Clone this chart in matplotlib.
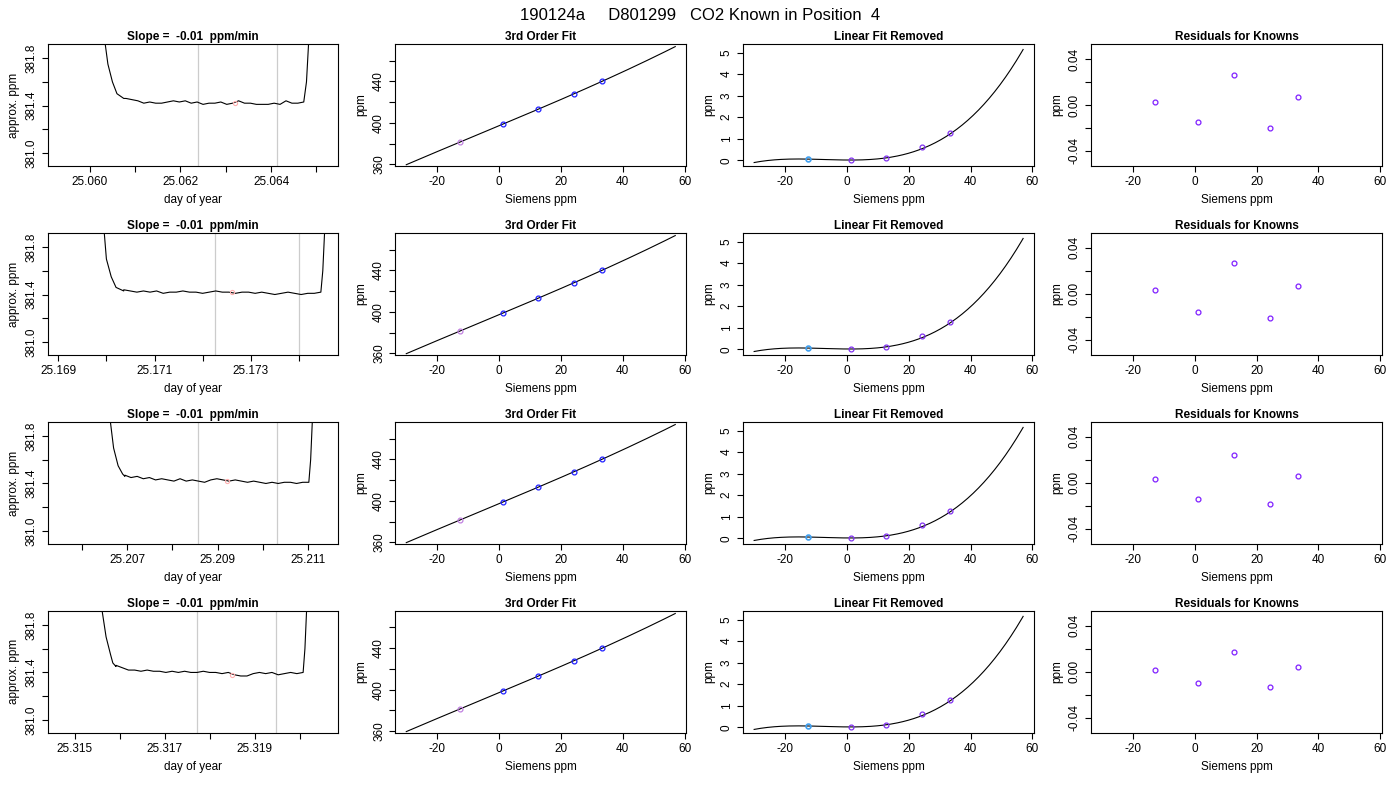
import numpy as np
import matplotlib
matplotlib.use("Agg")
import matplotlib.pyplot as plt
from matplotlib.ticker import MultipleLocator, FuncFormatter

plt.rcParams['font.family'] = ['Liberation Sans', 'DejaVu Sans']

title = "190124a     D801299   CO2 Known in Position  4"

# time-series traces: descent, flat wiggle, rise (day of year, ppm)
ts_desc_t = [[25.06033, 25.0604, 25.0605, 25.0606, 25.06075],
             [25.16995, 25.1700, 25.1701, 25.1702, 25.17036],
             [25.20662, 25.2067, 25.2068, 25.2069, 25.20695],
             [25.31560, 25.3157, 25.3158, 25.31585, 25.31592]]
ts_desc_v = [[381.95, 381.75, 381.60, 381.50, 381.46],
             [381.95, 381.70, 381.55, 381.46, 381.43],
             [381.95, 381.70, 381.55, 381.48, 381.46],
             [381.95, 381.70, 381.55, 381.48, 381.45]]
ts_flat_range = [(25.0608, 25.06472), (25.17036, 25.17445),
                 (25.20695, 25.21102), (25.31592, 25.32008)]
ts_flat_v = [
    [381.46, 381.45, 381.44, 381.42, 381.43, 381.42, 381.42, 381.43, 381.44, 381.43,
     381.44, 381.42, 381.43, 381.41, 381.42, 381.42, 381.43, 381.41, 381.42, 381.44,
     381.42, 381.42, 381.41, 381.41, 381.41, 381.42, 381.41, 381.44, 381.42, 381.42, 381.43],
    [381.44, 381.43, 381.42, 381.43, 381.42, 381.43, 381.41, 381.42, 381.42, 381.43,
     381.42, 381.42, 381.41, 381.42, 381.43, 381.42, 381.42, 381.41, 381.42, 381.42,
     381.41, 381.42, 381.41, 381.40, 381.41, 381.42, 381.41, 381.40, 381.41, 381.41, 381.42],
    [381.47, 381.45, 381.46, 381.44, 381.45, 381.43, 381.44, 381.43, 381.42, 381.44,
     381.42, 381.43, 381.42, 381.41, 381.43, 381.44, 381.43, 381.42, 381.43, 381.42,
     381.41, 381.42, 381.41, 381.40, 381.41, 381.40, 381.41, 381.41, 381.40, 381.41, 381.41],
    [381.46, 381.44, 381.42, 381.42, 381.41, 381.42, 381.41, 381.41, 381.40, 381.41,
     381.40, 381.41, 381.40, 381.40, 381.41, 381.40, 381.40, 381.39, 381.40, 381.38,
     381.37, 381.37, 381.39, 381.40, 381.39, 381.40, 381.38, 381.39, 381.40, 381.39, 381.40],
]
ts_rise_t = [[25.06478, 25.06483], [25.17449, 25.17453], [25.21106, 25.21110], [25.32012, 25.32016]]
ts_rise_v = [[381.60, 381.95], [381.60, 381.95], [381.60, 381.95], [381.60, 381.95]]
ts_xlim = [(25.05907, 25.06548), (25.16878, 25.17481), (25.20524, 25.21167), (25.3144, 25.32086)]
ts_gray = [(25.06238, 25.06413), (25.17226, 25.17400), (25.20857, 25.21032), (25.31773, 25.31948)]
ts_mark = [(25.0632, 381.42), (25.1726, 381.42), (25.2092, 381.42), (25.3185, 381.38)]
ts_ticks = [[25.060, 25.061, 25.062, 25.063, 25.064, 25.065],
            [25.169, 25.170, 25.171, 25.172, 25.173, 25.174],
            [25.206, 25.207, 25.208, 25.209, 25.210, 25.211],
            [25.315, 25.316, 25.317, 25.318, 25.319, 25.320]]
ts_ticklabels = [["25.060", "", "25.062", "", "25.064", ""],
                 ["25.169", "", "25.171", "", "25.173", ""],
                 ["", "25.207", "", "25.209", "", "25.211"],
                 ["25.315", "", "25.317", "", "25.319", ""]]

# known standards
siemens = [-12.7, 1.2, 12.7, 24.3, 33.3]
known_ppm = [381.4, 399.0, 413.0, 428.0, 440.0]
lin_removed = [0.05, 0.0, 0.1, 0.6, 1.25]
curve_x = [-30, -20, -10, 0, 10, 20, 30, 40, 50, 57]
curve_y = [-0.1, 0.05, 0.05, 0.0, 0.05, 0.35, 0.95, 2.0, 3.5, 5.2]
resid = [[0.003, -0.015, 0.026, -0.020, 0.007],
         [0.003, -0.016, 0.027, -0.021, 0.007],
         [0.003, -0.014, 0.024, -0.018, 0.006],
         [0.002, -0.010, 0.017, -0.013, 0.004]]
lin_intercept = 381.35
lin_slope = 1.248

fig, axes = plt.subplots(4, 4, figsize=(14, 8), dpi=100)
fig.subplots_adjust(left=0.034, right=0.987, top=0.945, bottom=0.084, wspace=0.197, hspace=0.55)
fig.suptitle(title, fontsize=12, y=0.99)

tfs, lfs, tkfs = 8.5, 8.5, 8.5
coef = np.polyfit(curve_x, curve_y, 3)
xx = np.linspace(-30, 57, 200)
cub = np.polyval(coef, xx)
xt = [-20, 0, 20, 40, 60]
xtl = ["-20", "0", "20", "40", "60"]

def style(ax):
    ax.tick_params(direction='out', length=4, labelsize=tkfs)
    for lab in ax.get_yticklabels():
        lab.set_rotation(90)
        lab.set_va('center')

for r in range(4):
    ax = axes[r, 0]
    t = list(ts_desc_t[r]) + list(np.linspace(*ts_flat_range[r], len(ts_flat_v[r]))) + list(ts_rise_t[r])
    v = list(ts_desc_v[r]) + ts_flat_v[r] + list(ts_rise_v[r])
    for g in ts_gray[r]:
        ax.axvline(g, color='#cccccc', lw=0.9)
    ax.plot(t, v, color='black', lw=0.8)
    ax.plot(*ts_mark[r], 'o', ms=3, mfc='none', mec='#ffb0b0', mew=0.8)
    ax.set_xlim(*ts_xlim[r]); ax.set_ylim(380.89, 381.92)
    ax.set_xticks(ts_ticks[r]); ax.set_xticklabels(ts_ticklabels[r])
    ax.set_yticks([381.0, 381.2, 381.4, 381.6, 381.8])
    ax.set_yticklabels(["381.0", "", "381.4", "", "381.8"])
    ax.set_title("Slope =  -0.01  ppm/min", fontsize=tfs, fontweight='bold', pad=3)
    ax.set_xlabel("day of year", fontsize=lfs); ax.set_ylabel("approx. ppm", fontsize=lfs)
    style(ax)

    ax = axes[r, 1]
    ax.plot(xx, lin_intercept + lin_slope * (xx - siemens[0]) + cub, color='black', lw=0.8)
    ax.plot(siemens[:1], known_ppm[:1], 'o', ms=3.5, mfc='none', mec='#c080e0', mew=0.9)
    ax.plot(siemens[1:], known_ppm[1:], 'o', ms=3.5, mfc='none', mec='#2020ff', mew=0.9)
    ax.set_xlim(-33.5, 60.5); ax.set_ylim(358.5, 476)
    ax.set_xticks(xt); ax.set_xticklabels(xtl)
    ax.set_yticks([360, 380, 400, 420, 440, 460])
    ax.set_yticklabels(["360", "", "400", "", "440", ""])
    ax.set_title("3rd Order Fit", fontsize=tfs, fontweight='bold', pad=3)
    ax.set_xlabel("Siemens ppm", fontsize=lfs); ax.set_ylabel("ppm", fontsize=lfs)
    style(ax)

    ax = axes[r, 2]
    ax.plot(xx, cub, color='black', lw=0.8)
    ax.plot(siemens[:1], lin_removed[:1], 'o', ms=3.5, mfc='none', mec='#40a0f0', mew=1.2)
    ax.plot(siemens[1:], lin_removed[1:], 'o', ms=3.5, mfc='none', mec='#8030f0', mew=0.9)
    ax.set_xlim(-33.5, 60.5); ax.set_ylim(-0.26, 5.4)
    ax.set_xticks(xt); ax.set_xticklabels(xtl)
    ax.set_yticks([0, 1, 2, 3, 4, 5])
    ax.set_title("Linear Fit Removed", fontsize=tfs, fontweight='bold', pad=3)
    ax.set_xlabel("Siemens ppm", fontsize=lfs); ax.set_ylabel("ppm", fontsize=lfs)
    style(ax)

    ax = axes[r, 3]
    ax.plot(siemens, resid[r], 'o', ms=3.5, mfc='none', mec='#8020ff', mew=0.9, ls='none')
    ax.set_xlim(-33.5, 60.5); ax.set_ylim(-0.053, 0.053)
    ax.set_xticks(xt); ax.set_xticklabels(xtl)
    ax.set_yticks([-0.04, -0.02, 0.0, 0.02, 0.04])
    ax.set_yticklabels(["-0.04", "", "0.00", "", "0.04"])
    ax.set_title("Residuals for Knowns", fontsize=tfs, fontweight='bold', pad=3)
    ax.set_xlabel("Siemens ppm", fontsize=lfs); ax.set_ylabel("ppm", fontsize=lfs)
    style(ax)

fig.savefig("out.png", dpi=100)
